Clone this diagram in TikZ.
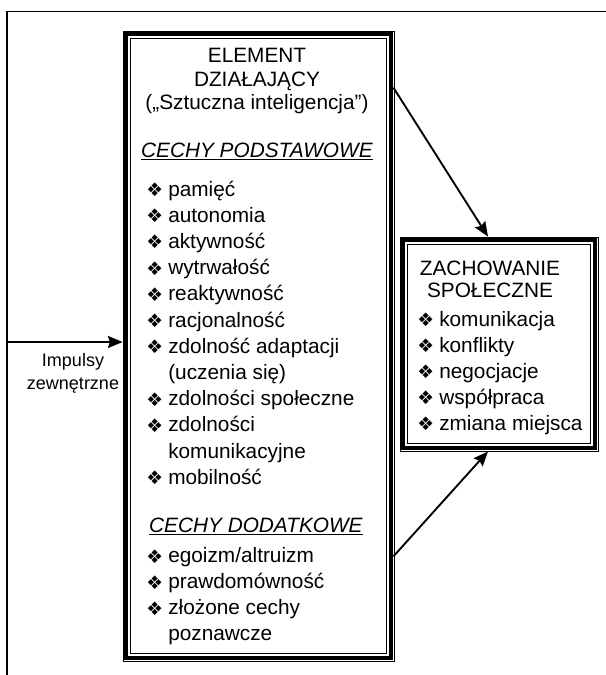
\documentclass[tikz,border=0pt]{standalone}
\usepackage{fontspec}
\setmainfont{Liberation Sans}
\newfontfamily\symfont{DejaVu Sans}
\usetikzlibrary{arrows.meta}
\newcommand\dia{\makebox[16.5pt][l]{\raisebox{-0.4pt}{\fontsize{14pt}{14pt}\symfont ❖}}}
\begin{document}
\begin{tikzpicture}[x=0.75pt,y=-0.75pt,
  txt/.style={inner sep=0pt,font=\fontsize{15.6pt}{18pt}\selectfont},
  small/.style={inner sep=0pt,font=\fontsize{13.5pt}{16pt}\selectfont},
  frame/.style={draw,line width=0.6pt,inner sep=0pt},
  thickframe/.style={line width=2.6pt},
  thinframe/.style={line width=0.75pt},
  arr/.style={line width=1.4pt,-{Stealth[length=11pt,width=9pt,inset=1.5pt]}}]
\useasboundingbox (0,0) rectangle (606,675);
% outer partial frame
\draw[line width=0.9pt] (7,675) -- (7,11.5) -- (606,11.5);
% main box
\node[frame,minimum width=203.25pt,minimum height=472.5pt] (main) at (258.5,346) {};
\draw[thickframe] ([shift={(3.5,3.5)}]main.north west) rectangle ([shift={(-3.5,-3.5)}]main.south east);
\draw[thinframe] ([shift={(8,8)}]main.north west) rectangle ([shift={(-8,-8)}]main.south east);
% social box
\node[frame,minimum width=148.5pt,minimum height=160.5pt] (soc) at (499,344) {};
\draw[thickframe] ([shift={(3.5,3.5)}]soc.north west) rectangle ([shift={(-3.5,-3.5)}]soc.south east);
\draw[thinframe] ([shift={(8,8)}]soc.north west) rectangle ([shift={(-8,-8)}]soc.south east);
% main title
\node[txt,anchor=base] (t1) at (257,62.5) {ELEMENT};
\node[txt,anchor=base] (t2) at (257,86) {DZIAŁAJĄCY};
\node[txt,anchor=base] (t3) at (257,109.5) {(„Sztuczna inteligencja”)};
\node[txt,anchor=base] (h1) at (257,157.5) {\underline{\textit{CECHY PODSTAWOWE}}};
% basic features
\node[txt,anchor=base west] (b1) at (146,196) {\dia pamięć};
\node[txt,anchor=base west] (b2) at (146,222.2) {\dia autonomia};
\node[txt,anchor=base west] (b3) at (146,248.4) {\dia aktywność};
\node[txt,anchor=base west] (b4) at (146,274.6) {\dia wytrwałość};
\node[txt,anchor=base west] (b5) at (146,300.8) {\dia reaktywność};
\node[txt,anchor=base west] (b6) at (146,327) {\dia racjonalność};
\node[txt,anchor=base west] (b7) at (146,353.2) {\dia zdolność adaptacji};
\node[txt,anchor=base west] (b7b) at (168,379.4) {(uczenia się)};
\node[txt,anchor=base west] (b8) at (146,405.6) {\dia zdolności społeczne};
\node[txt,anchor=base west] (b9) at (146,431.8) {\dia zdolności};
\node[txt,anchor=base west] (b9b) at (168,458) {komunikacyjne};
\node[txt,anchor=base west] (b10) at (146,484.2) {\dia mobilność};
% additional features
\node[txt,anchor=base] (h2) at (256,532.5) {\underline{\textit{CECHY DODATKOWE}}};
\node[txt,anchor=base west] (d1) at (146,562.5) {\dia egoizm/altruizm};
\node[txt,anchor=base west] (d2) at (146,588.5) {\dia prawdomówność};
\node[txt,anchor=base west] (d3) at (146,614.5) {\dia złożone cechy};
\node[txt,anchor=base west] (d3b) at (168,640.5) {poznawcze};
% social behaviour
\node[txt,anchor=base] (s1) at (490,275.5) {ZACHOWANIE};
\node[txt,anchor=base] (s2) at (490,297.5) {SPOŁECZNE};
\node[txt,anchor=base west] (c1) at (417,326) {\dia komunikacja};
\node[txt,anchor=base west] (c2) at (417,352) {\dia konflikty};
\node[txt,anchor=base west] (c3) at (417,378) {\dia negocjacje};
\node[txt,anchor=base west] (c4) at (417,404) {\dia współpraca};
\node[txt,anchor=base west] (c5) at (417,430) {\dia zmiana miejsca};
% impulses
\coordinate (imp) at (7,342);
\draw[arr] (imp) -- (imp -| main.west);
\node[small,anchor=base] (i1) at (73,366) {Impulsy};
\node[small,anchor=base] (i2) at (73,389) {zewnętrzne};
% connectors
\draw[arr] ([shift={(-1,57)}]main.north east) -- ([shift={(-11,0)}]soc.north);
\draw[arr] ([shift={(-1,-105)}]main.south east) -- ([shift={(-11,0)}]soc.south);
\end{tikzpicture}
\end{document}
